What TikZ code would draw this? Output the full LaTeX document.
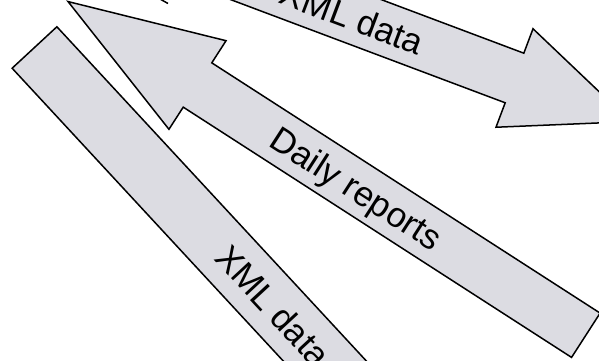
\documentclass[tikz,border=0pt]{standalone}
\usepackage{xcolor}
\usepackage{fontspec}
\setmainfont{Liberation Sans}
\usepackage{tikz}
\usetikzlibrary{calc}

\definecolor{arrowgray}{RGB}{220,220,226}

\tikzset{
  blockarrow/.style={draw=black,fill=arrowgray,line width=1.5pt,line join=miter},
  arrowlabel/.style={anchor=base,inner sep=0pt,black,font=\fontsize{35}{42}\selectfont,transform shape},
}

\begin{document}
\begin{tikzpicture}[x=1pt,y=1pt]%
\useasboundingbox (0,0) rectangle (599,361);%
\clip (0,0) rectangle (599,361);%
% upper arrow, XML data to the right
\begin{scope}[shift={(514.5,283)},rotate=-20.6]%
\path[blockarrow] (-420,26.5) -- (0,26.5) -- (0,52.6) -- (124,0) -- (0,-52.6) -- (0,-26.5) -- (-420,-26.5) -- cycle;%
\node[arrowlabel] (xml_top) at (-173,-13) {XML data};%
\end{scope}%
% middle arrow, daily reports back to the left
\begin{scope}[shift={(197.5,276)},rotate=-32.8]%
\path[blockarrow] (-154,0) -- (0,52.7) -- (0,26.35) -- (462,26.35) -- (462,-26.35) -- (0,-26.35) -- (0,-52.7) -- cycle;%
\node[arrowlabel] (daily) at (189.5,-13) {Daily reports};%
\end{scope}%
% lower arrow, XML data going down
\begin{scope}[shift={(34.5,313.5)},rotate=-47.2]%
\path[blockarrow] (0,30.5) -- (560,30.5) -- (560,61) -- (680,0) -- (560,-61) -- (560,-30.5) -- (0,-30.5) -- cycle;%
\node[arrowlabel] (xml_low) at (352,-13) {XML data};%
\end{scope}%
\draw[line width=1.5pt] (160,362) -- (168,357.5);%
\end{tikzpicture}
\end{document}
